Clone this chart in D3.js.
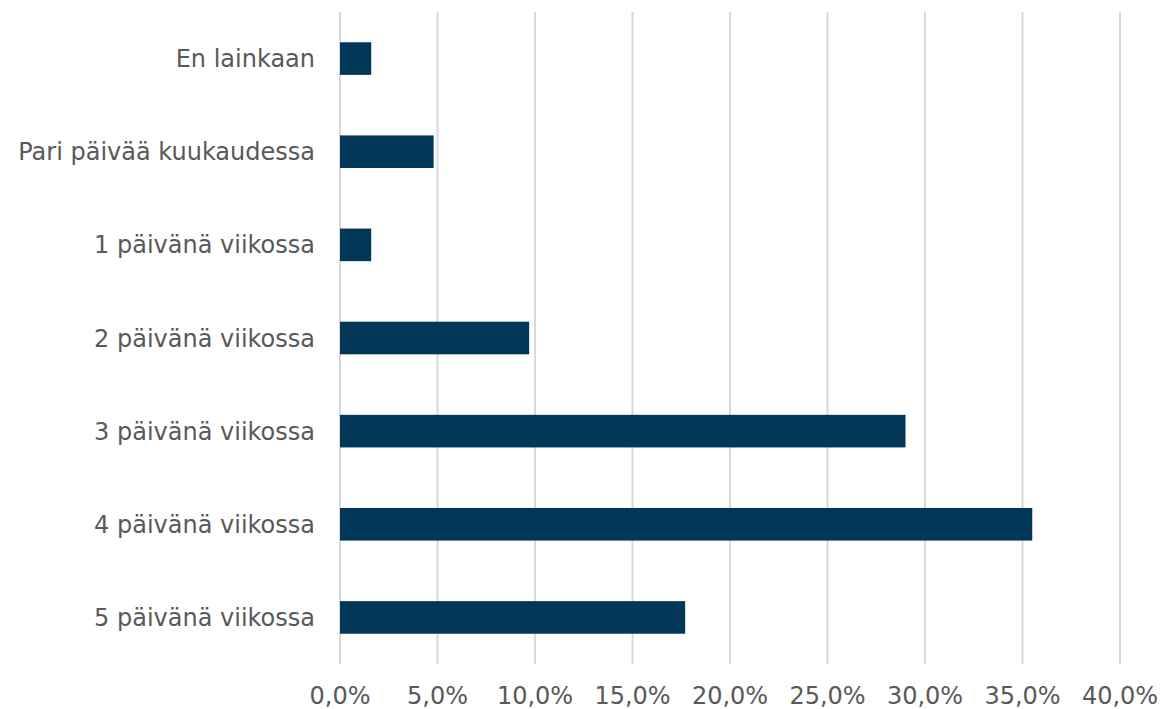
<!DOCTYPE html>
<html>
<head>
<meta charset="utf-8">
<script src="https://cdn.jsdelivr.net/npm/d3@7"></script>
<style>
  html, body { margin: 0; padding: 0; background: #ffffff; }
  svg { display: block; }
</style>
</head>
<body>
<svg id="chart" width="1165" height="709"></svg>
<script>
const categories = [
  "En lainkaan",
  "Pari päivää kuukaudessa",
  "1 päivänä viikossa",
  "2 päivänä viikossa",
  "3 päivänä viikossa",
  "4 päivänä viikossa",
  "5 päivänä viikossa"
];
const values = [1.6, 4.8, 1.6, 9.7, 29.0, 35.5, 17.7];
const tickValues = [0, 5, 10, 15, 20, 25, 30, 35, 40];
const tickLabels = ["0,0%", "5,0%", "10,0%", "15,0%", "20,0%", "25,0%", "30,0%", "35,0%", "40,0%"];

const svg = d3.select("#chart");
const margin = { left: 340, right: 45, top: 12, bottom: 45 };
const W = 1165, H = 709;
const font = "'DejaVu Sans', Verdana, sans-serif";
const textColor = "#595959";

const x = d3.scaleLinear().domain([0, 40]).range([margin.left, W - margin.right]);
const y = d3.scaleBand().domain(categories).range([margin.top, H - margin.bottom])
  .paddingInner(0.65).paddingOuter(0.325);

// gridlines
svg.append("g").selectAll("line").data(tickValues).join("line")
  .attr("x1", d => x(d)).attr("x2", d => x(d))
  .attr("y1", margin.top).attr("y2", H - margin.bottom)
  .attr("stroke", "#d9d9d9").attr("stroke-width", 2);

// bars
svg.append("g").selectAll("rect").data(categories).join("rect")
  .attr("x", x(0))
  .attr("y", d => y(d))
  .attr("width", (d, i) => x(values[i]) - x(0))
  .attr("height", y.bandwidth())
  .attr("fill", "#033758");

// category labels
svg.append("g").selectAll("text").data(categories).join("text")
  .attr("x", 315)
  .attr("y", d => y(d) + y.bandwidth() / 2)
  .attr("dy", "0.36em")
  .attr("text-anchor", "end")
  .attr("font-family", font)
  .attr("font-size", 24)
  .attr("fill", textColor)
  .text(d => d);

// tick labels
svg.append("g").selectAll("text").data(tickValues).join("text")
  .attr("x", d => x(d))
  .attr("y", 695)
  .attr("dy", "0.36em")
  .attr("text-anchor", "middle")
  .attr("font-family", font)
  .attr("font-size", 24)
  .attr("fill", textColor)
  .text((d, i) => tickLabels[i]);
</script>
</body>
</html>
